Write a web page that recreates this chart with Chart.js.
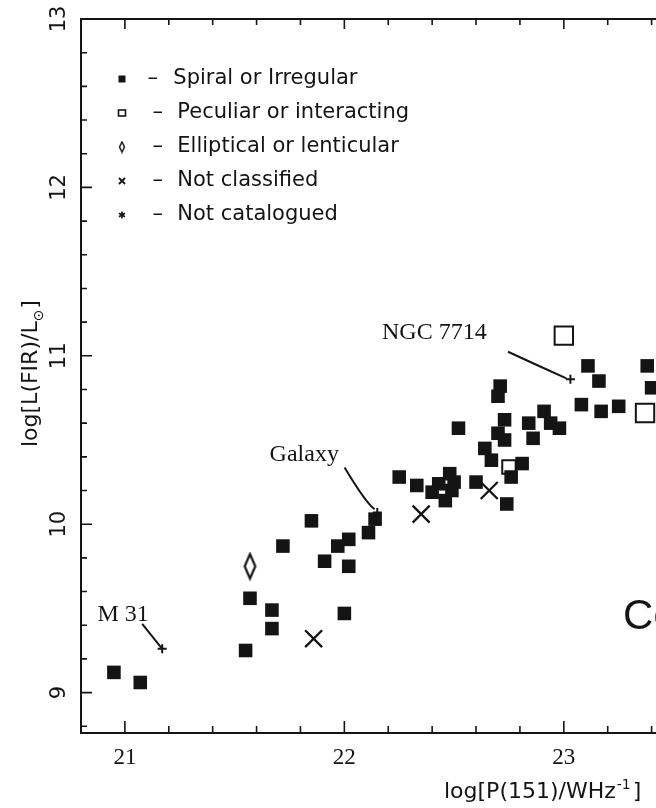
<!DOCTYPE html>
<html>
<head>
<meta charset="utf-8">
<script src="https://cdn.jsdelivr.net/npm/chart.js@4.4.1/dist/chart.umd.min.js"></script>
<style>
  html, body { margin: 0; padding: 0; background: #fff; overflow: hidden; }
  #wrap { width: 656px; height: 808px; position: relative; }
</style>
</head>
<body>
<div id="wrap"><canvas id="c"></canvas></div>
<script>
// ---------------- data ----------------
const seriesNames = ['Spiral or Irregular', 'Peculiar or interacting', 'Elliptical or lenticular', 'Not classified', 'Not catalogued'];

const spiralX = [20.95,21.07,21.55,21.57,21.67,21.67,21.72,21.85,21.91,21.97,22.02,22.02,22.00,22.11,22.14,22.25,22.33,22.40,22.43,22.48,22.50,22.49,22.46,22.52,22.60,22.64,22.67,22.71,22.70,22.73,22.70,22.73,22.76,22.81,22.74,22.84,22.91,22.94,22.98,22.86,23.08,23.11,23.16,23.17,23.25,23.38,23.40];
const spiralY = [9.12,9.06,9.25,9.56,9.49,9.38,9.87,10.02,9.78,9.87,9.91,9.75,9.47,9.95,10.03,10.28,10.23,10.19,10.24,10.30,10.25,10.20,10.14,10.57,10.25,10.45,10.38,10.82,10.76,10.62,10.54,10.50,10.28,10.36,10.12,10.60,10.67,10.60,10.57,10.51,10.71,10.94,10.85,10.67,10.70,10.94,10.81];

const peculiarX = [23.00, 22.75, 23.37];
const peculiarY = [11.12, 10.34, 10.66];

const ellipticalX = [21.57];
const ellipticalY = [9.75];

const notClassifiedX = [21.86, 22.35, 22.66];
const notClassifiedY = [9.32, 10.06, 10.20];

const notCataloguedX = [21.17, 22.15, 23.03];
const notCataloguedY = [9.26, 10.07, 10.86];
const notCataloguedNames = ['M 31', 'Galaxy', 'NGC 7714'];

const xTickLabels = ['21', '22', '23'];
const yTickLabels = ['9', '10', '11', '12', '13'];

const xTitle = { main: 'log[P(151)/WHz', sup: '-1', end: ']' };
const yTitle = { main: 'log[L(FIR)/L', sub: '\u2299', end: ']' };
const cutText = 'Co';

// ---------------- helpers ----------------
const INK = '#141414';
const pts = (xs, ys) => xs.map((v, i) => ({ x: v, y: ys[i] }));
const isInt = v => Math.abs(v - Math.round(v)) < 1e-6;
const isStep = v => Math.abs(v * 5 - Math.round(v * 5)) < 1e-6;

function makeDiamond(w, h, lw) {
  const c = document.createElement('canvas');
  c.width = w; c.height = h;
  const g = c.getContext('2d');
  g.fillStyle = '#fff'; g.strokeStyle = INK; g.lineWidth = lw; g.lineJoin = 'miter';
  g.beginPath();
  g.moveTo(w / 2, lw); g.lineTo(w - lw, h / 2); g.lineTo(w / 2, h - lw); g.lineTo(lw, h / 2);
  g.closePath(); g.fill(); g.stroke();
  return c;
}
const bigDiamond = makeDiamond(15, 29, 2.2);
const smallDiamond = makeDiamond(8, 13, 1.5);

function drawMini(ctx, kind, cx, cy) {
  ctx.save();
  ctx.strokeStyle = INK; ctx.fillStyle = INK;
  if (kind === 0) {
    ctx.fillRect(cx - 3.5, cy - 3.5, 7, 7);
  } else if (kind === 1) {
    ctx.lineWidth = 1.6;
    ctx.strokeRect(cx - 3.5, cy - 3, 7, 6);
  } else if (kind === 2) {
    ctx.drawImage(smallDiamond, cx - 4, cy - 6.5);
  } else if (kind === 3) {
    ctx.lineWidth = 1.8;
    ctx.beginPath();
    ctx.moveTo(cx - 3, cy - 3); ctx.lineTo(cx + 3, cy + 3);
    ctx.moveTo(cx + 3, cy - 3); ctx.lineTo(cx - 3, cy + 3);
    ctx.stroke();
  } else {
    ctx.lineWidth = 1.6;
    ctx.beginPath();
    for (let k = 0; k < 3; k++) {
      const a = Math.PI / 2 + k * Math.PI / 3;
      ctx.moveTo(cx - 3.5 * Math.cos(a), cy - 3.5 * Math.sin(a));
      ctx.lineTo(cx + 3.5 * Math.cos(a), cy + 3.5 * Math.sin(a));
    }
    ctx.stroke();
  }
  ctx.restore();
}

// annotation geometry (pixel offsets from the marked point)
const noteGeom = [
  { tdx: -64.7, tdy: -28,   align: 'left',  line: [[-20, -25], [-10, -12.5], [0, 0]] },
  { tdx: -107.7, tdy: -51.6, align: 'left', line: [[-32.7, -45], [-11.1, -9.05], [-2.7, -3.3]] },
  { tdx: -83.7, tdy: -40.3, align: 'right', line: [[-62.4, -27.6], [-33, -14], [-4, -1]] }
];

const decor = {
  id: 'decor',
  afterDraw(chart) {
    const { ctx, chartArea: a, scales: { x, y } } = chart;
    const W = chart.width;
    ctx.save();
    ctx.strokeStyle = INK; ctx.fillStyle = INK;

    // top frame line
    ctx.lineWidth = 2;
    ctx.beginPath(); ctx.moveTo(a.left - 1, a.top); ctx.lineTo(W, a.top); ctx.stroke();

    // inward ticks
    ctx.lineWidth = 1.6;
    ctx.beginPath();
    x.ticks.forEach(t => {
      if (!isStep(t.value)) return;
      const px = x.getPixelForValue(t.value);
      const maj = isInt(t.value);
      ctx.moveTo(px, a.bottom); ctx.lineTo(px, a.bottom - (maj ? 12 : 7));
      ctx.moveTo(px, a.top); ctx.lineTo(px, a.top + (maj ? 10 : 6));
    });
    y.ticks.forEach(t => {
      if (!isStep(t.value)) return;
      const py = y.getPixelForValue(t.value);
      const maj = isInt(t.value);
      ctx.moveTo(a.left, py); ctx.lineTo(a.left + (maj ? 11 : 6), py);
    });
    ctx.stroke();

    // legend inside plot
    const lgX = a.left + 41, lgY0 = a.top + 60, lgDy = 34;
    ctx.font = '21px "DejaVu Sans"';
    ctx.textBaseline = 'middle'; ctx.textAlign = 'left';
    chart.data.datasets.forEach((ds, i) => {
      const cy = lgY0 + i * lgDy;
      drawMini(ctx, i, lgX, cy);
      ctx.fillText('\u2013', lgX + (i === 0 ? 25.5 : 30.5), cy);
      ctx.fillText(ds.label, lgX + (i === 0 ? 51.3 : 55.3), cy);
    });

    // annotations for not-catalogued objects
    const meta = chart.getDatasetMeta(4);
    ctx.font = '24px "Liberation Serif"';
    ctx.textBaseline = 'alphabetic';
    meta.data.forEach((el, i) => {
      const g = noteGeom[i];
      const px = el.x, py = el.y;
      ctx.lineWidth = 2;
      ctx.beginPath();
      ctx.moveTo(px + g.line[0][0], py + g.line[0][1]);
      ctx.quadraticCurveTo(px + g.line[1][0], py + g.line[1][1], px + g.line[2][0], py + g.line[2][1]);
      ctx.stroke();
      ctx.textAlign = g.align;
      ctx.fillText(notCataloguedNames[i], px + g.tdx, py + g.tdy);
    });

    // cut-off text at the right edge
    ctx.font = '42px "Liberation Sans"';
    ctx.textAlign = 'left';
    ctx.fillText(cutText, x.getPixelForValue(23.27), y.getPixelForValue(9.38));

    // x axis title
    ctx.font = '22px "DejaVu Sans"';
    let tx = 444, ty = 798;
    ctx.fillText(xTitle.main, tx, ty);
    tx += ctx.measureText(xTitle.main).width + 1;
    ctx.font = '14px "DejaVu Sans"';
    ctx.fillText(xTitle.sup, tx, ty - 9);
    tx += ctx.measureText(xTitle.sup).width + 2;
    ctx.font = '22px "DejaVu Sans"';
    ctx.fillText(xTitle.end, tx, ty);

    // y axis title (rotated)
    ctx.save();
    ctx.translate(37, 447);
    ctx.rotate(-Math.PI / 2);
    ctx.font = '22px "DejaVu Sans"';
    let sx = 0;
    ctx.fillText(yTitle.main, sx, 0);
    sx += ctx.measureText(yTitle.main).width;
    ctx.font = '14px "DejaVu Sans"';
    ctx.fillText(yTitle.sub, sx, 6);
    sx += ctx.measureText(yTitle.sub).width + 1;
    ctx.font = '22px "DejaVu Sans"';
    ctx.fillText(yTitle.end, sx, 0);
    ctx.restore();

    ctx.restore();
  }
};

const xLabel = v => { if (!isInt(v)) return ''; const s = String(Math.round(v)); return xTickLabels.includes(s) ? s : ''; };
const yLabel = v => { if (!isInt(v)) return ''; const s = String(Math.round(v)); return yTickLabels.includes(s) ? s : ''; };

new Chart(document.getElementById('c'), {
  type: 'scatter',
  data: {
    datasets: [
      { label: seriesNames[0], data: pts(spiralX, spiralY), pointStyle: 'rect', pointRadius: 9.6,
        backgroundColor: INK, borderColor: INK, borderWidth: 0 },
      { label: seriesNames[1], data: pts(peculiarX, peculiarY), pointStyle: 'rect',
        pointRadius: c => (c.dataIndex === 1 ? 9.5 : 13),
        backgroundColor: 'rgba(255,255,255,0)', borderColor: INK, borderWidth: 2 },
      { label: seriesNames[2], data: pts(ellipticalX, ellipticalY), pointStyle: bigDiamond, pointRadius: 15,
        backgroundColor: INK, borderColor: INK },
      { label: seriesNames[3], data: pts(notClassifiedX, notClassifiedY), pointStyle: 'crossRot', pointRadius: 12,
        borderColor: INK, borderWidth: 2.3 },
      { label: seriesNames[4], data: pts(notCataloguedX, notCataloguedY), pointStyle: 'cross', pointRadius: 4.5,
        borderColor: INK, borderWidth: 2 }
    ]
  },
  options: {
    animation: false,
    responsive: true,
    maintainAspectRatio: false,
    events: [],
    layout: { autoPadding: false, padding: { top: 19, left: 0, right: 0, bottom: 0 } },
    plugins: { legend: { display: false }, tooltip: { enabled: false } },
    scales: {
      x: {
        type: 'linear', min: 20.8, max: 23.42,
        grid: { display: false, drawTicks: false },
        border: { display: true, color: INK, width: 2 },
        ticks: { stepSize: 0.2, autoSkip: false, includeBounds: false, maxRotation: 0, padding: 11,
          color: INK, font: { family: 'Liberation Serif', size: 23 }, callback: xLabel },
        afterFit: s => { s.height = 75; s.paddingLeft = 0; s.paddingRight = 0; }
      },
      y: {
        type: 'linear', min: 8.76, max: 13,
        grid: { display: false, drawTicks: false },
        border: { display: true, color: INK, width: 2 },
        ticks: { stepSize: 0.2, autoSkip: false, includeBounds: false, minRotation: 90, maxRotation: 90,
          crossAlign: 'center', padding: 8, color: INK, font: { family: 'DejaVu Sans', size: 21 }, callback: yLabel },
        afterFit: s => { s.width = 81; s.paddingTop = 0; s.paddingBottom = 0; }
      }
    }
  },
  plugins: [decor]
});
</script>
</body>
</html>
